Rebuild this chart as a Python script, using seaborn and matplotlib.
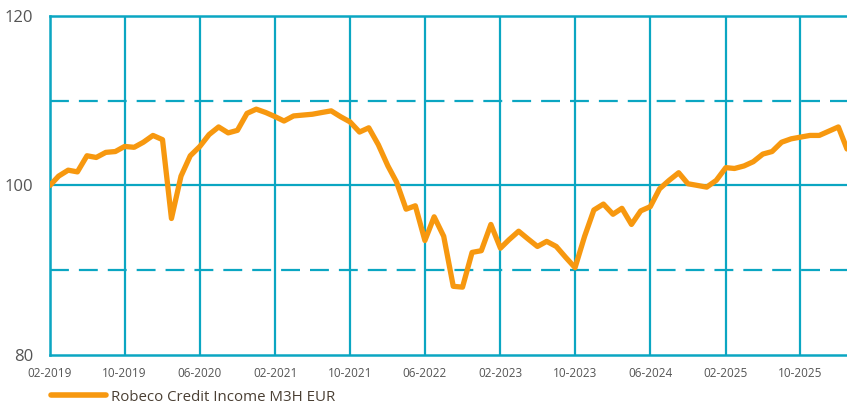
import pandas as pd
import matplotlib.pyplot as plt
import seaborn as sns

# monthly index values, 02-2019 .. 03-2026
start_month = "2019-02-01"
values = [100.0, 101.1, 101.8, 101.6, 103.5, 103.3, 103.9, 104.0, 104.6, 104.5,
          105.1, 105.9, 105.4, 96.1, 101.1, 103.5, 104.6, 106.0, 106.9, 106.2,
          106.5, 108.5, 109.0, 108.6, 108.1, 107.6, 108.2, 108.3, 108.4, 108.6,
          108.8, 108.1, 107.5, 106.3, 106.8, 104.8, 102.3, 100.4, 97.2, 97.6,
          93.5, 96.3, 94.0, 88.1, 88.0, 92.1, 92.3, 95.4, 92.6, 93.6,
          94.6, 93.7, 92.8, 93.4, 92.8, 91.5, 90.3, 94.0, 97.1, 97.8,
          96.6, 97.3, 95.4, 97.0, 97.5, 99.6, 100.6, 101.5, 100.2, 100.0,
          99.8, 100.6, 102.1, 102.0, 102.3, 102.8, 103.7, 104.0, 105.1, 105.5,
          105.7, 105.9, 105.9, 106.4, 106.9, 104.3]
series_name = "Robeco Credit Income M3H EUR"
tick_labels = ["02-2019", "10-2019", "06-2020", "02-2021", "10-2021", "06-2022",
               "02-2023", "10-2023", "06-2024", "02-2025", "10-2025"]
y_ticks = [80, 100, 120]

df = pd.DataFrame({
    "date": pd.date_range(start_month, periods=len(values), freq="MS"),
    "value": values,
    "fund": series_name,
})

teal = "#0ba6c2"
orange = "#f7980f"

sns.set_style("white")
plt.rcParams["font.family"] = ["Open Sans", "DejaVu Sans"]

fig = plt.figure(figsize=(8.47, 4.08), dpi=100)
ax = fig.add_axes([0.059, 0.13, 0.941, 0.831])

# grid
for y in [90, 110]:
    ax.axhline(y, color=teal, lw=1.6, dashes=(8.5, 4.5), zorder=1)
ax.axhline(100, color=teal, lw=1.6, zorder=1)
tick_dates = pd.to_datetime(["-".join(t.split("-")[::-1]) + "-01" for t in tick_labels])
for d in tick_dates:
    ax.axvline(d, color=teal, lw=1.6, zorder=1)

sns.lineplot(data=df, x="date", y="value", hue="fund", palette=[orange],
             linewidth=3.8, ax=ax, zorder=3)

ax.set_xlim(df["date"].iloc[0], df["date"].iloc[-1])
ax.set_ylim(80, 120)
ax.set_xticks(tick_dates)
ax.set_xticklabels(tick_labels)
ax.set_yticks(y_ticks)
ax.set_yticklabels([str(t) for t in y_ticks])
ax.set_xlabel("")
ax.set_ylabel("")
ax.tick_params(axis="x", labelsize=8.5, labelcolor="#555555", length=0, pad=9)
ax.tick_params(axis="y", labelsize=12, labelcolor="#555555", length=0, pad=12)

for side in ["left", "bottom", "top"]:
    ax.spines[side].set_color(teal)
    ax.spines[side].set_linewidth(1.8)
ax.spines["right"].set_visible(False)

ax.legend_.remove()
handles, labels = ax.get_legend_handles_labels()
leg = fig.legend(handles, labels, loc="lower left", bbox_to_anchor=(0.044, -0.025),
                 frameon=False, fontsize=10.8, handlelength=3.7, handletextpad=0.3)
for t in leg.get_texts():
    t.set_color("#4a3f33")
for l in leg.get_lines():
    l.set_linewidth(4)

fig.savefig("out.png", dpi=100)
